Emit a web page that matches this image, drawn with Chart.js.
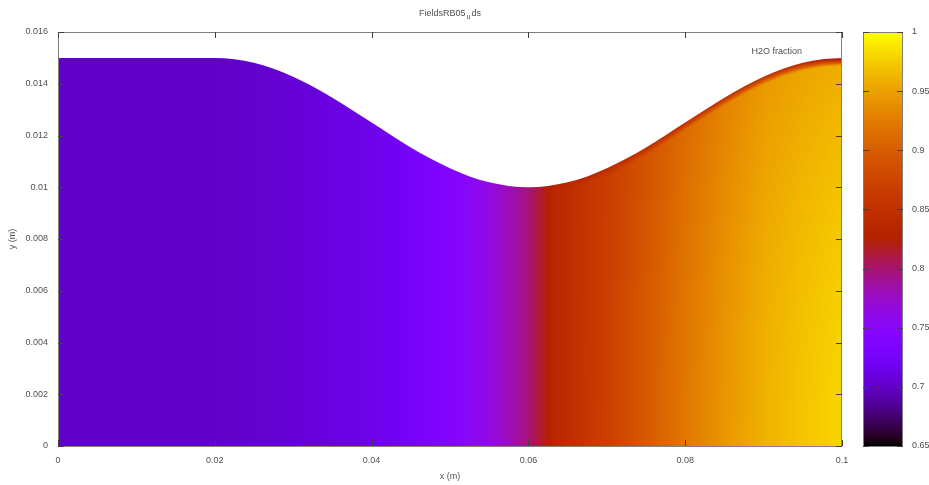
<!DOCTYPE html>
<html>
<head>
<meta charset="utf-8">
<script src="https://cdn.jsdelivr.net/npm/chart.js@4.4.1/dist/chart.umd.min.js"></script>
<style>
  html, body { margin: 0; padding: 0; background: #fff; }
  #wrap { position: relative; width: 929px; height: 485px; }
  canvas { position: absolute; left: 0; top: 0; }
</style>
</head>
<body>
<div id="wrap">
  <canvas id="field" width="929" height="485"></canvas>
  <canvas id="cbar" width="929" height="485"></canvas>
</div>
<script>
// upper surface of the domain (y in m)
const surfX = [0, 0.0025, 0.005, 0.0075, 0.01, 0.0125, 0.015, 0.0175, 0.02,
  0.0225, 0.025, 0.0275, 0.03, 0.0325, 0.035, 0.0375, 0.04, 0.0425, 0.045, 0.0475, 0.05,
  0.0525, 0.055, 0.0575, 0.06, 0.0625, 0.065, 0.0675, 0.07, 0.0725, 0.075, 0.0775, 0.08,
  0.0825, 0.085, 0.0875, 0.09, 0.0925, 0.095, 0.0975, 0.1];
const surfY = [0.015, 0.015, 0.015, 0.015, 0.015, 0.015, 0.015, 0.015, 0.015,
  0.01495, 0.01481, 0.01458, 0.01427, 0.01389, 0.01346, 0.01299, 0.0125, 0.01201, 0.01154, 0.01111, 0.01073,
  0.01042, 0.01019, 0.01005, 0.01, 0.01005, 0.01019, 0.01042, 0.01073, 0.01111, 0.01154, 0.01201, 0.0125,
  0.01299, 0.01346, 0.01389, 0.01427, 0.01458, 0.01481, 0.01495, 0.015];

// H2O fraction along x, at the bottom and just under the surface
const fieldX      = [0, 0.02, 0.03, 0.04, 0.045, 0.05, 0.0525, 0.055, 0.057, 0.059, 0.061, 0.0625, 0.0635, 0.065, 0.07, 0.075, 0.08, 0.085, 0.09, 0.095, 0.1];
const fieldBottom = [0.70, 0.70, 0.705, 0.715, 0.725, 0.74, 0.752, 0.765, 0.777, 0.79, 0.808, 0.825, 0.837, 0.846, 0.87, 0.897, 0.922, 0.943, 0.96, 0.971, 0.98];
const fieldUpper  = [0.70, 0.70, 0.705, 0.715, 0.725, 0.74, 0.752, 0.765, 0.777, 0.79, 0.808, 0.825, 0.837, 0.846, 0.867, 0.89, 0.912, 0.93, 0.945, 0.952, 0.957];

// thin darker layer along the surface on the right
const skinX     = [0.061, 0.063, 0.07, 0.08, 0.09, 0.095, 0.1];
const skinOuter = [0.808, 0.83, 0.84, 0.845, 0.845, 0.835, 0.80];
const skinDepth = 0.0003;

const xTicks = [0, 0.02, 0.04, 0.06, 0.08, 0.1];
const xLabels = ['0', '0.02', '0.04', '0.06', '0.08', '0.1'];
const yTicks = [0, 0.002, 0.004, 0.006, 0.008, 0.01, 0.012, 0.014, 0.016];
const yLabels = ['0', '0.002', '0.004', '0.006', '0.008', '0.01', '0.012', '0.014', '0.016'];
const cbTicks = [0.65, 0.7, 0.75, 0.8, 0.85, 0.9, 0.95, 1];
const cbLabels = ['0.65', '0.7', '0.75', '0.8', '0.85', '0.9', '0.95', '1'];
const cbMin = 0.65, cbMax = 1;

const FONT = 'Liberation Sans, Arial, sans-serif';
const TXT = '#505050';

// gnuplot default palette (rgbformulae 7,5,15)
function palette(v) {
  let g = (v - cbMin) / (cbMax - cbMin);
  g = Math.max(0, Math.min(1, g));
  const r = Math.sqrt(g), gg = g * g * g, b = Math.max(0, Math.sin(2 * Math.PI * g));
  return [Math.round(r * 255), Math.round(gg * 255), Math.round(b * 255)];
}

function interp(xs, ys, x) {
  if (x <= xs[0]) return ys[0];
  for (let i = 1; i < xs.length; i++) {
    if (x <= xs[i]) {
      const t = (x - xs[i - 1]) / (xs[i] - xs[i - 1]);
      return ys[i - 1] + (ys[i] - ys[i - 1]) * t;
    }
  }
  return ys[ys.length - 1];
}

let pattern = null;
function fieldPattern(chart) {
  const a = chart.chartArea, sx = chart.scales.x, sy = chart.scales.y;
  const off = document.createElement('canvas');
  off.width = chart.width; off.height = chart.height;
  const c = off.getContext('2d');
  const img = c.createImageData(off.width, off.height);
  for (let px = Math.floor(a.left); px < Math.ceil(a.right); px++) {
    const xv = sx.getValueForPixel(px + 0.5);
    const top = interp(surfX, surfY, xv);
    const vb = interp(fieldX, fieldBottom, xv);
    const vu = interp(fieldX, fieldUpper, xv);
    const hasSkin = xv >= skinX[0];
    const so = hasSkin ? interp(skinX, skinOuter, xv) : 0;
    for (let py = Math.floor(a.top); py < Math.ceil(a.bottom); py++) {
      const yv = sy.getValueForPixel(py + 0.5);
      const f = Math.max(0, Math.min(1, yv / top));
      let v = vb + (vu - vb) * f * f;
      const d = top - yv;
      if (hasSkin && d < skinDepth) {
        const t = Math.max(0, d) / skinDepth;
        v = so + (v - so) * t;
      }
      const col = palette(v);
      const i = (py * off.width + px) * 4;
      img.data[i] = col[0]; img.data[i + 1] = col[1]; img.data[i + 2] = col[2]; img.data[i + 3] = 255;
    }
  }
  c.putImageData(img, 0, 0);
  return chart.ctx.createPattern(off, 'no-repeat');
}

// border, inward ticks, title and key text the gnuplot way
const frame = {
  id: 'frame',
  afterDatasetsDraw(chart) {
    const ctx = chart.ctx, a = chart.chartArea, sx = chart.scales.x, sy = chart.scales.y;
    ctx.save();
    ctx.strokeStyle = '#808080';
    ctx.lineWidth = 1;
    ctx.strokeRect(a.left + 0.5, a.top + 0.5, a.right - a.left - 1, a.bottom - a.top);
    ctx.strokeStyle = '#404040';
    ctx.beginPath();
    xTicks.forEach(v => {
      const p = Math.round(sx.getPixelForValue(v)) + 0.5;
      ctx.moveTo(p, a.bottom); ctx.lineTo(p, a.bottom - 6);
      ctx.moveTo(p, a.top); ctx.lineTo(p, a.top + 6);
    });
    yTicks.forEach(v => {
      const p = Math.round(sy.getPixelForValue(v)) + 0.5;
      ctx.moveTo(a.left, p); ctx.lineTo(a.left + 6, p);
      ctx.moveTo(a.right, p); ctx.lineTo(a.right - 6, p);
    });
    ctx.stroke();

    ctx.fillStyle = TXT;
    ctx.textBaseline = 'middle';
    ctx.font = '9px ' + FONT;
    // title "FieldsRB05_uds" (underscore gives a subscript in gnuplot)
    const parts = ['FieldsRB05', 'u', 'ds'];
    const w0 = ctx.measureText(parts[0]).width;
    ctx.font = '7px ' + FONT;
    const w1 = ctx.measureText(parts[1]).width;
    ctx.font = '9px ' + FONT;
    const w2 = ctx.measureText(parts[2]).width;
    let tx = (a.left + a.right) / 2 - (w0 + w1 + w2 + 2) / 2;
    ctx.textAlign = 'left';
    ctx.fillText(parts[0], tx, 14);
    ctx.font = '7px ' + FONT;
    ctx.fillText(parts[1], tx + w0 + 1, 17);
    ctx.font = '9px ' + FONT;
    ctx.fillText(parts[2], tx + w0 + w1 + 2, 14);
    // key text
    ctx.textAlign = 'right';
    ctx.fillText('H2O fraction', 802, 52);
    ctx.restore();
  }
};

new Chart(document.getElementById('field'), {
  type: 'line',
  data: {
    datasets: [{
      label: 'H2O fraction',
      data: surfX.map((x, i) => ({ x: x, y: surfY[i] })),
      fill: 'origin',
      borderWidth: 0,
      pointRadius: 0,
      cubicInterpolationMode: 'monotone',
      backgroundColor: (context) => {
        const chart = context.chart;
        if (!chart.chartArea || !chart.scales.x) return 'rgba(0,0,0,0)';
        if (!pattern) pattern = fieldPattern(chart);
        return pattern;
      }
    }]
  },
  options: {
    responsive: false,
    animation: false,
    events: [],
    layout: { padding: { top: 32, right: 87, left: 0, bottom: 0 } },
    plugins: { legend: { display: false }, tooltip: { enabled: false } },
    scales: {
      x: {
        type: 'linear', min: 0, max: 0.1,
        afterFit: s => { s.height = 39; },
        afterBuildTicks: s => { s.ticks = xTicks.map(v => ({ value: v })); },
        grid: { display: false, drawTicks: false },
        border: { display: false },
        ticks: { padding: 9, color: TXT, font: { size: 9, family: FONT },
          maxRotation: 0, callback: (v, i) => xLabels[i] },
        title: { display: true, text: 'x (m)', color: TXT, font: { size: 9, family: FONT }, padding: { top: 0, bottom: 3 } }
      },
      y: {
        type: 'linear', min: 0, max: 0.016,
        afterFit: s => { s.width = 58; },
        afterBuildTicks: s => { s.ticks = yTicks.map(v => ({ value: v })); },
        grid: { display: false, drawTicks: false },
        border: { display: false },
        ticks: { padding: 10, color: TXT, font: { size: 9, family: FONT }, callback: (v, i) => yLabels[i] },
        title: { display: true, text: 'y (m)', color: TXT, font: { size: 9, family: FONT }, padding: { top: 7, bottom: 0 } }
      }
    }
  },
  plugins: [frame]
});

// colour box
const cbFrame = {
  id: 'cbFrame',
  afterDatasetsDraw(chart) {
    const ctx = chart.ctx, a = chart.chartArea, sy = chart.scales.y;
    ctx.save();
    ctx.strokeStyle = '#808080';
    ctx.strokeRect(a.left + 0.5, a.top + 0.5, a.right - a.left - 1, a.bottom - a.top);
    ctx.strokeStyle = '#404040';
    ctx.beginPath();
    cbTicks.forEach(v => {
      const p = Math.round(sy.getPixelForValue(v)) + 0.5;
      ctx.moveTo(a.left, p); ctx.lineTo(a.left + 6, p);
      ctx.moveTo(a.right, p); ctx.lineTo(a.right - 6, p);
    });
    ctx.stroke();
    ctx.restore();
  }
};

new Chart(document.getElementById('cbar'), {
  type: 'bar',
  data: {
    labels: ['H2O fraction'],
    datasets: [{
      data: [[cbMin, cbMax]],
      barPercentage: 1,
      categoryPercentage: 1,
      borderWidth: 0,
      backgroundColor: (context) => {
        const chart = context.chart, sy = chart.scales.y;
        if (!chart.chartArea || !sy) return '#000';
        const g = chart.ctx.createLinearGradient(0, sy.getPixelForValue(cbMin), 0, sy.getPixelForValue(cbMax));
        for (let k = 0; k <= 60; k++) {
          const c = palette(cbMin + (cbMax - cbMin) * k / 60);
          g.addColorStop(k / 60, 'rgb(' + c.join(',') + ')');
        }
        return g;
      }
    }]
  },
  options: {
    responsive: false,
    animation: false,
    events: [],
    layout: { padding: { top: 32, right: 0, left: 863, bottom: 39 } },
    plugins: { legend: { display: false }, tooltip: { enabled: false } },
    scales: {
      x: { display: false },
      y: {
        position: 'right', min: cbMin, max: cbMax,
        afterFit: s => { s.width = 26; },
        afterBuildTicks: s => { s.ticks = cbTicks.map(v => ({ value: v })); },
        grid: { display: false, drawTicks: false },
        border: { display: false },
        ticks: { padding: 9, color: TXT, font: { size: 9, family: FONT }, callback: (v, i) => cbLabels[i] }
      }
    }
  },
  plugins: [cbFrame]
});
</script>
</body>
</html>
